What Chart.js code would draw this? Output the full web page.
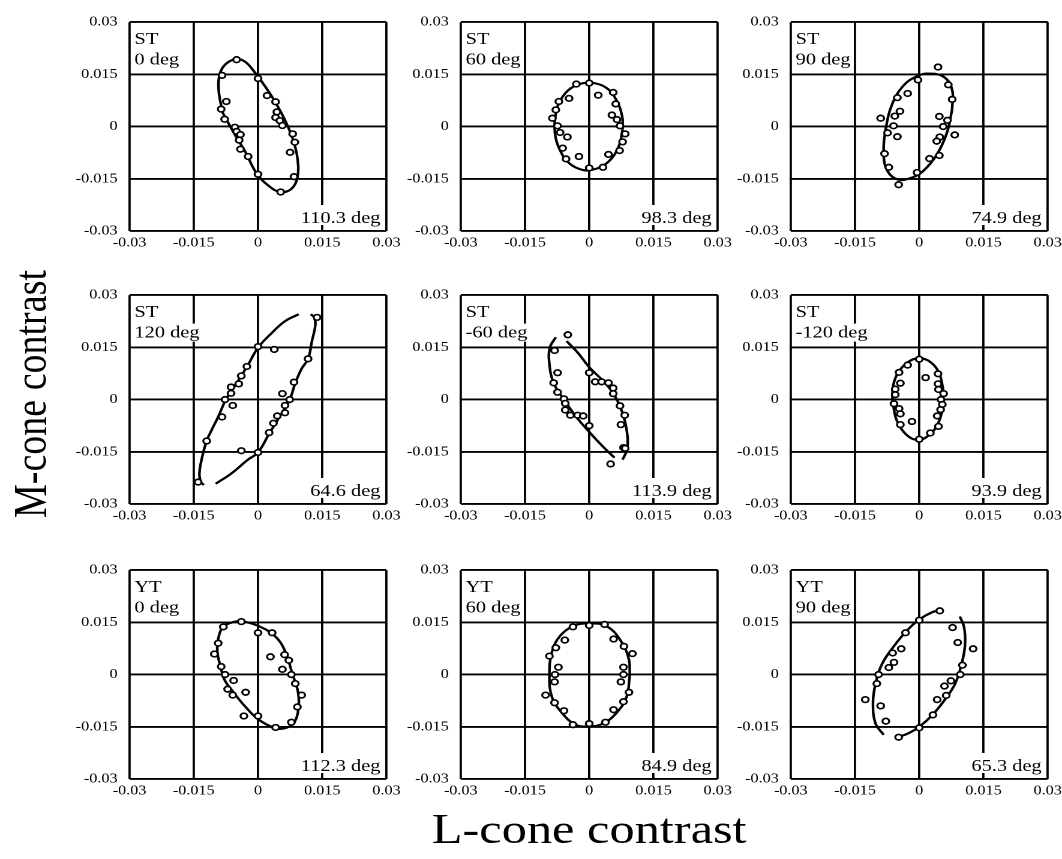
<!DOCTYPE html>
<html><head><meta charset="utf-8">
<script src="https://cdn.jsdelivr.net/npm/chart.js@4.4.0/dist/chart.umd.min.js"></script>
<style>
html,body{margin:0;padding:0;background:#fff;overflow:hidden;}
#page{position:absolute;left:0;top:0;width:885px;height:859px;transform:scaleX(1.2);transform-origin:0 0;}
#page canvas{position:absolute;}
.title{position:absolute;font-family:'Liberation Serif','Times New Roman',serif;color:#000;white-space:nowrap;line-height:1;}
</style></head><body>
<div id="page">
<div class="title" id="ytitle" style="left:25px;top:394px;font-size:38px;transform:translate(-50%,-50%) rotate(-90deg);">M-cone contrast</div>
<div class="title" id="xtitle" style="left:491px;top:829px;font-size:42px;transform:translate(-50%,-50%);">L-cone contrast</div>
</div>
<script>
// ---------- DATA (L-cone contrast, M-cone contrast) ----------
const tickValues = [-0.03, -0.015, 0, 0.015, 0.03];
const tickLabels = ['-0.03', '-0.015', '0', '0.015', '0.03'];

const subjects   = ['ST', 'ST', 'ST', 'ST', 'ST', 'ST', 'YT', 'YT', 'YT'];
const conditions = ['0 deg', '60 deg', '90 deg', '120 deg', '-60 deg', '-120 deg', '0 deg', '60 deg', '90 deg'];
const fitAngles  = ['110.3 deg', '98.3 deg', '74.9 deg', '64.6 deg', '113.9 deg', '93.9 deg', '112.3 deg', '84.9 deg', '65.3 deg'];

const st0Points = [[-0.0050,0.0192],[-0.0084,0.0147],[0.0000,0.0138],[0.0021,0.0089],[0.0041,0.0071],[-0.0074,0.0072],[-0.0086,0.0050],[0.0044,0.0042],[-0.0078,0.0021],[0.0041,0.0026],[0.0051,0.0017],[0.0057,0.0003],[-0.0054,-0.0002],[-0.0050,-0.0014],[-0.0041,-0.0023],[0.0081,-0.0021],[-0.0044,-0.0039],[0.0086,-0.0045],[-0.0041,-0.0065],[-0.0023,-0.0086],[0.0075,-0.0074],[0.0000,-0.0137],[0.0084,-0.0144],[0.0053,-0.0188]];
const st0Fit = [[-0.0083,0.0041],[-0.0057,-0.0017],[-0.0030,-0.0072],[-0.0003,-0.0135],[0.0029,-0.0174],[0.0054,-0.0188],[0.0078,-0.0179],[0.0092,-0.0147],[0.0092,-0.0090],[0.0081,-0.0035],[0.0062,0.0021],[0.0038,0.0075],[0.0014,0.0120],[-0.0011,0.0161],[-0.0030,0.0186],[-0.0050,0.0194],[-0.0075,0.0180],[-0.0089,0.0152],[-0.0092,0.0105],[-0.0083,0.0041]];

const st60Points = [[-0.0030,0.0122],[0.0000,0.0125],[0.0021,0.0090],[0.0056,0.0098],[-0.0047,0.0081],[-0.0071,0.0072],[0.0062,0.0065],[-0.0078,0.0048],[0.0053,0.0033],[-0.0086,0.0024],[0.0065,0.0020],[0.0072,0.0002],[-0.0074,0.0002],[-0.0068,-0.0017],[0.0084,-0.0021],[-0.0051,-0.0030],[0.0078,-0.0044],[-0.0062,-0.0062],[0.0071,-0.0069],[-0.0024,-0.0086],[0.0045,-0.0080],[-0.0054,-0.0093],[0.0000,-0.0119],[0.0032,-0.0117]];
const st60Fit = [[0.0078,-0.0009],[0.0069,-0.0057],[0.0045,-0.0101],[0.0014,-0.0122],[-0.0014,-0.0125],[-0.0047,-0.0105],[-0.0069,-0.0066],[-0.0080,-0.0020],[-0.0078,0.0038],[-0.0062,0.0086],[-0.0035,0.0116],[0.0000,0.0126],[0.0038,0.0113],[0.0063,0.0077],[0.0077,0.0029],[0.0078,-0.0009]];

const st90Points = [[0.0044,0.0171],[-0.0003,0.0134],[0.0068,0.0120],[-0.0027,0.0095],[-0.0051,0.0083],[0.0077,0.0078],[-0.0045,0.0044],[-0.0057,0.0030],[-0.0090,0.0024],[0.0047,0.0029],[0.0066,0.0018],[-0.0060,0.0002],[0.0056,0.0000],[-0.0074,-0.0018],[-0.0051,-0.0029],[0.0083,-0.0024],[0.0048,-0.0030],[0.0041,-0.0042],[-0.0081,-0.0078],[0.0047,-0.0083],[0.0024,-0.0092],[-0.0071,-0.0117],[-0.0005,-0.0132],[-0.0048,-0.0167]];
const st90Fit = [[0.0077,0.0050],[0.0065,-0.0017],[0.0041,-0.0081],[0.0009,-0.0128],[-0.0018,-0.0147],[-0.0050,-0.0152],[-0.0074,-0.0128],[-0.0083,-0.0081],[-0.0078,-0.0006],[-0.0062,0.0068],[-0.0035,0.0120],[-0.0006,0.0144],[0.0018,0.0152],[0.0057,0.0143],[0.0077,0.0105],[0.0077,0.0050]];

const st120Points = [[0.0138,0.0236],[0.0000,0.0152],[0.0038,0.0144],[0.0117,0.0117],[-0.0026,0.0095],[-0.0039,0.0068],[0.0084,0.0050],[-0.0045,0.0045],[-0.0063,0.0036],[-0.0063,0.0018],[0.0057,0.0017],[-0.0077,0.0000],[0.0074,0.0000],[-0.0059,-0.0017],[0.0063,-0.0017],[0.0063,-0.0038],[0.0045,-0.0047],[-0.0084,-0.0050],[0.0036,-0.0068],[0.0026,-0.0095],[-0.0120,-0.0119],[-0.0039,-0.0147],[0.0000,-0.0152],[-0.0140,-0.0237]];
const st120FitA = [[0.0095,0.0245],[0.0063,0.0225],[0.0032,0.0191],[0.0000,0.0149],[-0.0024,0.0098],[-0.0048,0.0051],[-0.0075,0.0000],[-0.0092,-0.0047],[-0.0107,-0.0084],[-0.0120,-0.0119],[-0.0131,-0.0168],[-0.0137,-0.0215],[-0.0132,-0.0240],[-0.0126,-0.0245]];
const st120FitB = [[-0.0099,-0.0242],[-0.0063,-0.0213],[-0.0024,-0.0173],[0.0000,-0.0152],[0.0026,-0.0098],[0.0047,-0.0056],[0.0074,0.0000],[0.0087,0.0047],[0.0102,0.0089],[0.0117,0.0117],[0.0126,0.0168],[0.0134,0.0215],[0.0131,0.0237],[0.0123,0.0245]];

const stm60Points = [[-0.0050,0.0186],[-0.0081,0.0141],[0.0000,0.0077],[-0.0074,0.0077],[0.0014,0.0051],[0.0029,0.0051],[0.0045,0.0048],[-0.0083,0.0048],[0.0056,0.0033],[-0.0074,0.0021],[0.0056,0.0017],[-0.0059,0.0002],[-0.0056,-0.0011],[0.0072,-0.0018],[-0.0056,-0.0030],[-0.0044,-0.0045],[-0.0027,-0.0045],[-0.0014,-0.0047],[0.0083,-0.0045],[0.0000,-0.0075],[0.0074,-0.0072],[0.0080,-0.0138],[0.0084,-0.0140],[0.0050,-0.0185]];
const stm60FitA = [[-0.0078,0.0179],[-0.0092,0.0149],[-0.0093,0.0102],[-0.0083,0.0047],[-0.0059,0.0000],[-0.0032,-0.0047],[0.0000,-0.0093],[0.0032,-0.0135],[0.0059,-0.0167]];
const stm60FitB = [[0.0078,-0.0173],[0.0089,-0.0140],[0.0087,-0.0084],[0.0075,-0.0029],[0.0056,0.0018],[0.0032,0.0054],[0.0000,0.0093],[-0.0027,0.0135],[-0.0053,0.0168]];

const stm120Points = [[0.0000,0.0116],[-0.0027,0.0099],[-0.0047,0.0078],[0.0044,0.0074],[0.0015,0.0063],[-0.0044,0.0047],[0.0044,0.0045],[-0.0056,0.0030],[0.0045,0.0029],[0.0057,0.0017],[-0.0056,0.0014],[0.0051,0.0000],[-0.0059,-0.0012],[0.0054,-0.0014],[-0.0047,-0.0026],[0.0050,-0.0029],[-0.0044,-0.0041],[0.0042,-0.0047],[-0.0017,-0.0063],[-0.0044,-0.0072],[0.0045,-0.0077],[0.0026,-0.0096],[0.0000,-0.0114]];
const stm120Fit = [[0.0056,0.0029],[0.0054,-0.0029],[0.0042,-0.0074],[0.0024,-0.0101],[0.0000,-0.0116],[-0.0024,-0.0107],[-0.0047,-0.0074],[-0.0059,-0.0029],[-0.0062,0.0029],[-0.0051,0.0074],[-0.0027,0.0107],[0.0000,0.0119],[0.0027,0.0107],[0.0047,0.0074],[0.0056,0.0029]];

const yt0Points = [[-0.0039,0.0152],[-0.0081,0.0137],[0.0000,0.0120],[0.0033,0.0120],[-0.0093,0.0090],[-0.0102,0.0059],[0.0029,0.0051],[0.0062,0.0057],[0.0072,0.0041],[-0.0086,0.0023],[0.0057,0.0015],[-0.0077,0.0000],[0.0078,0.0000],[-0.0057,-0.0017],[0.0087,-0.0026],[-0.0071,-0.0042],[-0.0029,-0.0051],[-0.0059,-0.0059],[0.0102,-0.0059],[0.0092,-0.0093],[-0.0033,-0.0119],[0.0000,-0.0119],[0.0078,-0.0137],[0.0041,-0.0152]];
const yt0Fit = [[-0.0087,0.0018],[-0.0077,-0.0018],[-0.0054,-0.0056],[-0.0032,-0.0089],[0.0000,-0.0128],[0.0044,-0.0155],[0.0068,-0.0152],[0.0086,-0.0135],[0.0095,-0.0089],[0.0093,-0.0047],[0.0080,0.0003],[0.0063,0.0068],[0.0039,0.0111],[0.0000,0.0140],[-0.0039,0.0153],[-0.0063,0.0149],[-0.0083,0.0135],[-0.0093,0.0102],[-0.0095,0.0065],[-0.0087,0.0018]];

const yt60Points = [[-0.0038,0.0137],[0.0000,0.0141],[0.0036,0.0144],[-0.0057,0.0099],[0.0057,0.0102],[-0.0078,0.0077],[0.0081,0.0081],[-0.0093,0.0053],[0.0101,0.0060],[-0.0072,0.0021],[0.0080,0.0021],[-0.0080,0.0000],[0.0080,0.0000],[-0.0081,-0.0021],[0.0074,-0.0021],[0.0093,-0.0051],[-0.0102,-0.0059],[-0.0081,-0.0081],[0.0080,-0.0078],[-0.0059,-0.0104],[0.0057,-0.0101],[-0.0038,-0.0144],[0.0000,-0.0141],[0.0038,-0.0137]];
const yt60Fit = [[0.0095,0.0000],[0.0087,-0.0065],[0.0063,-0.0111],[0.0032,-0.0141],[0.0000,-0.0149],[-0.0032,-0.0144],[-0.0063,-0.0111],[-0.0087,-0.0065],[-0.0093,0.0000],[-0.0087,0.0065],[-0.0068,0.0111],[-0.0036,0.0140],[0.0000,0.0147],[0.0039,0.0140],[0.0071,0.0102],[0.0092,0.0047],[0.0095,0.0000]];

const yt90Points = [[0.0048,0.0183],[0.0000,0.0156],[0.0078,0.0135],[-0.0032,0.0120],[0.0090,0.0092],[-0.0042,0.0074],[0.0126,0.0074],[-0.0062,0.0062],[-0.0059,0.0035],[-0.0071,0.0020],[0.0101,0.0027],[-0.0095,0.0000],[0.0096,0.0000],[0.0074,-0.0018],[-0.0099,-0.0026],[0.0059,-0.0033],[-0.0126,-0.0072],[0.0042,-0.0072],[0.0063,-0.0060],[-0.0090,-0.0090],[0.0032,-0.0116],[-0.0078,-0.0134],[0.0000,-0.0153],[-0.0048,-0.0180]];
const yt90FitA = [[0.0095,0.0167],[0.0105,0.0135],[0.0107,0.0084],[0.0099,0.0030],[0.0084,-0.0026],[0.0060,-0.0072],[0.0030,-0.0117],[0.0000,-0.0150],[-0.0024,-0.0168],[-0.0047,-0.0179]];
const yt90FitB = [[-0.0083,-0.0173],[-0.0102,-0.0141],[-0.0108,-0.0081],[-0.0102,-0.0026],[-0.0087,0.0030],[-0.0060,0.0080],[-0.0029,0.0126],[0.0000,0.0158],[0.0030,0.0179],[0.0053,0.0186]];

const panelPoints = [st0Points, st60Points, st90Points, st120Points, stm60Points, stm120Points, yt0Points, yt60Points, yt90Points];
const panelFits = [[st0Fit], [st60Fit], [st90Fit], [st120FitA, st120FitB], [stm60FitA, stm60FitB], [stm120Fit], [yt0Fit], [yt60Fit], [yt90FitA, yt90FitB]];

// ---------- LAYOUT (unscaled page coordinates) ----------
const colLeft = [108, 384, 659];
const rowTop = [16, 289, 564];
const PLOT_W = 214, PLOT_H = 215;
const PAD_L = 70, PAD_T = 12, PAD_R = 22, PAD_B = 30;
const FONT = "'Liberation Serif', 'Times New Roman', serif";

const labelPlugin = {
  id: 'panelLabels',
  afterDatasetsDraw(chart, args, opts) {
    const ctx = chart.ctx, a = chart.chartArea;
    ctx.save();
    ctx.font = "17px " + FONT;
    ctx.textBaseline = 'alphabetic';
    ctx.textAlign = 'left';
    opts.lines.forEach((t, k) => {
      const w = ctx.measureText(t).width;
      const y = a.top + 22 + k * 20.5;
      ctx.fillStyle = '#fff';
      ctx.fillRect(a.left + 2, y - 14, w + 4, 18);
      ctx.fillStyle = '#000';
      ctx.fillText(t, a.left + 4, y);
    });
    const w = ctx.measureText(opts.angle).width;
    const x = a.right - 5 - w;
    const y = a.bottom - 8;
    ctx.fillStyle = '#fff';
    ctx.fillRect(x - 3, y - 18, a.right - 1.5 - (x - 3), 20);
    ctx.fillStyle = '#000';
    ctx.fillText(opts.angle, x, y);
    ctx.restore();
  }
};

function axis(isX) {
  return {
    type: 'linear', min: -0.03, max: 0.03,
    afterBuildTicks: s => { s.ticks = tickValues.map(v => ({ value: v })); },
    afterFit: s => { if (isX) s.height = PAD_B; else s.width = PAD_L; },
    grid: { color: '#000', lineWidth: 1.9, drawTicks: false },
    border: { display: false },
    ticks: {
      color: '#000', font: { family: FONT, size: 13.5 }, padding: isX ? 4 : 10,
      maxRotation: 0, autoSkip: false,
      callback: (v, i) => tickLabels[i]
    }
  };
}

const page = document.getElementById('page');
for (let i = 0; i < 9; i++) {
  const col = i % 3, row = Math.floor(i / 3);
  const cw = PAD_L + PLOT_W + PAD_R, ch = PAD_T + PLOT_H + PAD_B;
  const cv = document.createElement('canvas');
  cv.width = cw; cv.height = ch;
  cv.style.left = (colLeft[col] - PAD_L) + 'px';
  cv.style.top = (rowTop[row] - PAD_T) + 'px';
  cv.style.width = cw + 'px'; cv.style.height = ch + 'px';
  page.appendChild(cv);

  const datasets = [{
    label: subjects[i] + ' ' + conditions[i],
    data: panelPoints[i].map(p => ({ x: p[0], y: p[1] })),
    showLine: false, pointRadius: 2.8, pointHoverRadius: 2.8, pointBorderWidth: 1.7,
    pointBackgroundColor: '#fff', pointBorderColor: '#000', order: 0
  }];
  panelFits[i].forEach((seg, k) => {
    datasets.push({
      label: 'fit ' + k,
      data: seg.map(p => ({ x: p[0], y: p[1] })),
      showLine: true, pointRadius: 0, borderColor: '#000', borderWidth: 2.2,
      tension: 0.4, fill: false, order: 1
    });
  });

  new Chart(cv, {
    type: 'scatter',
    data: { datasets },
    options: {
      responsive: false, animation: false, devicePixelRatio: 2,
      layout: { padding: { left: 0, top: PAD_T, right: PAD_R, bottom: 0 } },
      plugins: {
        legend: { display: false }, tooltip: { enabled: false },
        panelLabels: { lines: [subjects[i], conditions[i]], angle: fitAngles[i] }
      },
      scales: { x: axis(true), y: axis(false) }
    },
    plugins: [labelPlugin]
  });
}
</script>
</body></html>
